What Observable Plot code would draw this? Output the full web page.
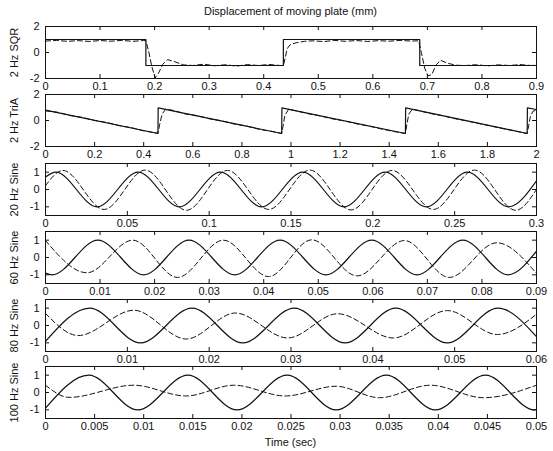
<!DOCTYPE html>
<html>
<head>
<meta charset="utf-8">
<script src="https://cdn.jsdelivr.net/npm/d3@7"></script>
<script src="https://cdn.jsdelivr.net/npm/@observablehq/plot@0.6"></script>
<style>
  body { margin: 0; background: #fff; font-family: "Liberation Sans", Arial, Helvetica, sans-serif; color: #111; }
  #chart { position: relative; width: 553px; height: 451px; overflow: hidden; }
  .caption { position: absolute; left: 45px; width: 491px; text-align: center; font-size: 11px; line-height: 13px; }
  .panel { position: absolute; left: 0; }
  .panel svg { overflow: visible; }
</style>
</head>
<body>
<div id="chart"></div>
<script>
// ---- Tick values for each panel ----
const sqrTicks = [0, 0.1, 0.2, 0.3, 0.4, 0.5, 0.6, 0.7, 0.8, 0.9];
const triTicks = [0, 0.2, 0.4, 0.6, 0.8, 1, 1.2, 1.4, 1.6, 1.8, 2];
const sine20Ticks = [0, 0.05, 0.1, 0.15, 0.2, 0.25, 0.3];
const sine60Ticks = [0, 0.01, 0.02, 0.03, 0.04, 0.05, 0.06, 0.07, 0.08, 0.09];
const sine80Ticks = [0, 0.01, 0.02, 0.03, 0.04, 0.05, 0.06];
const sine100Ticks = [0, 0.005, 0.01, 0.015, 0.02, 0.025, 0.03, 0.035, 0.04, 0.045, 0.05];
const wideYTicks = [-2, 0, 2];
const unitYTicks = [-1, 0, 1];

// ---- Panel labels ----
const panelLabels = ["2 Hz SQR", "2 Hz TriA", "20 Hz Sine", "60 Hz Sine", "80 Hz Sine", "100 Hz Sine"];

// ---- 2 Hz square wave: command (solid, held between steps) and measured (dashed) [time s, mm] ----
const sqrCommand = [[0, 1], [0.184, -1], [0.436, 1], [0.686, -1], [0.9, -1]];
const sqrMeasured = [
  [0, 0.88], [0.02, 0.93], [0.04, 0.86], [0.06, 0.91], [0.08, 0.85], [0.10, 0.92], [0.12, 0.87],
  [0.14, 0.93], [0.16, 0.86], [0.18, 0.92], [0.184, 0.9], [0.189, 0.1], [0.195, -1.1], [0.201, -1.95],
  [0.207, -1.6], [0.215, -0.9], [0.224, -0.55], [0.238, -0.72], [0.252, -0.95], [0.27, -1.0],
  [0.29, -0.9], [0.31, -1.02], [0.33, -0.94], [0.35, -1.05], [0.37, -0.93], [0.39, -1.0],
  [0.41, -0.92], [0.43, -1.0], [0.436, -1.0], [0.439, -0.5], [0.443, 0.3], [0.449, 0.62],
  [0.46, 0.75], [0.475, 0.86], [0.49, 0.9], [0.51, 0.84], [0.53, 0.93], [0.55, 0.86], [0.57, 0.92],
  [0.59, 0.85], [0.61, 0.91], [0.63, 0.87], [0.65, 0.93], [0.67, 0.88], [0.684, 0.9], [0.689, 0.0],
  [0.695, -1.2], [0.701, -1.8], [0.708, -1.7], [0.716, -0.95], [0.724, -0.6], [0.737, -0.82],
  [0.752, -0.98], [0.77, -1.0], [0.79, -0.94], [0.81, -1.03], [0.83, -0.95], [0.85, -1.0],
  [0.87, -0.93], [0.89, -1.0], [0.9, -0.97]
];

// ---- 2 Hz sawtooth ----
const triCommand = [
  [0, 0.8], [0.458, -1.0], [0.459, 0.97], [0.962, -1.0], [0.963, 0.97],
  [1.466, -1.0], [1.467, 0.97], [1.962, -1.0], [1.963, 0.97], [2, 0.84]
];
const triMeasured = [
  [0, 0.74], [0.05, 0.63], [0.1, 0.38], [0.15, 0.24], [0.2, 0.0], [0.25, -0.15], [0.3, -0.4],
  [0.35, -0.55], [0.4, -0.8], [0.45, -0.95], [0.458, -1.0], [0.465, -0.3], [0.475, 0.5], [0.49, 0.88],
  [0.52, 0.78], [0.57, 0.5], [0.62, 0.37], [0.67, 0.12], [0.72, -0.03], [0.77, -0.28], [0.82, -0.43],
  [0.87, -0.68], [0.92, -0.83], [0.962, -1.0], [0.968, -0.4], [0.975, 0.4], [0.99, 0.85],
  [1.02, 0.75], [1.07, 0.52], [1.12, 0.35], [1.17, 0.12], [1.22, -0.04], [1.27, -0.27], [1.32, -0.44],
  [1.37, -0.66], [1.42, -0.85], [1.466, -1.0], [1.472, -0.3], [1.48, 0.5], [1.495, 0.88],
  [1.52, 0.76], [1.57, 0.53], [1.62, 0.36], [1.67, 0.13], [1.72, -0.05], [1.77, -0.25], [1.82, -0.45],
  [1.87, -0.65], [1.92, -0.84], [1.962, -1.0], [1.968, -0.4], [1.975, 0.3], [1.985, 0.7], [2, 0.82]
];

// ---- Sine runs: start, peaks/troughs, end ----
const sine20Command = [
  [0, 0.72], [0.0063, 1], [0.0315, -1], [0.0566, 1], [0.0818, -1], [0.1069, 1], [0.1321, -1],
  [0.1572, 1], [0.1824, -1], [0.2075, 1], [0.2327, -1], [0.2578, 1], [0.2830, -1], [0.3, 0.5]
];
const sine20Measured = [
  [0, 0.22], [0.0106, 1.1], [0.0358, -1.15], [0.0609, 1.12], [0.0861, -1.2], [0.1112, 1.1],
  [0.1364, -1.15], [0.1615, 1.12], [0.1867, -1.18], [0.2118, 1.1], [0.2370, -1.15], [0.2621, 1.12],
  [0.2873, -1.2], [0.3, 0.0]
];
const sine60Command = [
  [0, -0.9], [0.0012, -1], [0.0096, 1], [0.0180, -1], [0.0263, 1], [0.0347, -1], [0.0430, 1],
  [0.0514, -1], [0.0598, 1], [0.0681, -1], [0.0765, 1], [0.0848, -1], [0.09, 0.37]
];
const sine60Measured = [
  [0, 0.98], [0.0076, -0.88], [0.0160, 1.0], [0.0242, -1.15], [0.0326, 1.0], [0.0409, -1.1],
  [0.0488, 1.02], [0.0571, -1.06], [0.0658, 0.98], [0.0740, -1.15], [0.0827, 0.85], [0.09, -0.92]
];
const sine80Command = [
  [0, -0.92], [0.0054, 1], [0.0116, -1], [0.0179, 1], [0.0241, -1], [0.0304, 1], [0.0366, -1],
  [0.0428, 1], [0.0491, -1], [0.0553, 1], [0.06, -0.65]
];
const sine80Measured = [
  [0, 0.7], [0.0040, -0.58], [0.0108, 0.88], [0.0172, -0.78], [0.0232, 0.72], [0.0296, -0.72],
  [0.0357, 0.68], [0.0425, -0.72], [0.0491, 0.86], [0.0552, -0.52], [0.06, 0.65]
];
const sine100Command = [
  [0, -0.9], [0.0044, 1], [0.0094, -1], [0.0145, 1], [0.0195, -1], [0.0246, 1], [0.0296, -1],
  [0.0347, 1], [0.0397, -1], [0.0448, 1], [0.0498, -1], [0.05, -0.99]
];
const sine100Measured = [
  [0, 0.42], [0.0024, -0.28], [0.0090, 0.42], [0.0143, -0.2], [0.0192, 0.42], [0.0244, -0.2],
  [0.0296, 0.36], [0.0340, -0.3], [0.0392, 0.42], [0.0446, -0.3], [0.05, 0.42]
];

// ---- Layout ----
const W = 553, ML = 45, MR = 17, FRAME_H = 52, MT = 1, MB = 19, TICK = 4;
const panelTops = [26, 94, 163, 231, 299, 366];
const INK = "#111";
const fmt = d => String(+d.toFixed(4));

const panels = [
  { label: panelLabels[0], xTicks: sqrTicks, yTicks: wideYTicks, yDomain: [-2, 2], cmd: sqrCommand, meas: sqrMeasured, cmdCurve: "step-after", measCurve: "linear" },
  { label: panelLabels[1], xTicks: triTicks, yTicks: wideYTicks, yDomain: [-2, 2], cmd: triCommand, meas: triMeasured, cmdCurve: "linear", measCurve: "linear" },
  { label: panelLabels[2], xTicks: sine20Ticks, yTicks: unitYTicks, yDomain: [-1.5, 1.5], cmd: sine20Command, meas: sine20Measured, cmdCurve: "monotone-x", measCurve: "monotone-x" },
  { label: panelLabels[3], xTicks: sine60Ticks, yTicks: unitYTicks, yDomain: [-1.5, 1.5], cmd: sine60Command, meas: sine60Measured, cmdCurve: "monotone-x", measCurve: "monotone-x" },
  { label: panelLabels[4], xTicks: sine80Ticks, yTicks: unitYTicks, yDomain: [-1.5, 1.5], cmd: sine80Command, meas: sine80Measured, cmdCurve: "monotone-x", measCurve: "monotone-x" },
  { label: panelLabels[5], xTicks: sine100Ticks, yTicks: unitYTicks, yDomain: [-1.5, 1.5], cmd: sine100Command, meas: sine100Measured, cmdCurve: "monotone-x", measCurve: "monotone-x" }
];

const chart = document.getElementById("chart");

const title = document.createElement("div");
title.className = "caption";
title.style.top = "5px";
title.textContent = "Displacement of moving plate (mm)";
chart.appendChild(title);

const frameW = W - ML - MR;

panels.forEach((p, i) => {
  const xDomain = [p.xTicks[0], p.xTicks[p.xTicks.length - 1]];
  const svg = Plot.plot({
    width: W,
    height: MT + FRAME_H + MB,
    marginLeft: ML,
    marginRight: MR,
    marginTop: MT,
    marginBottom: MB,
    style: { fontFamily: '"Liberation Sans", Arial, Helvetica, sans-serif', fontSize: "11px", color: INK, background: "transparent" },
    x: { domain: xDomain, axis: null },
    y: { domain: p.yDomain, axis: null },
    marks: [
      Plot.line(p.meas, { x: d => d[0], y: d => d[1], curve: p.measCurve, stroke: INK, strokeWidth: 1, strokeDasharray: "5,3", clip: true }),
      Plot.line(p.cmd, { x: d => d[0], y: d => d[1], curve: p.cmdCurve, stroke: INK, strokeWidth: 1.2, clip: true }),
      // inward tick marks on all four sides
      Plot.tickX(p.xTicks, { x: d => d, insetTop: FRAME_H - TICK, stroke: INK }),
      Plot.tickX(p.xTicks, { x: d => d, insetBottom: FRAME_H - TICK, stroke: INK }),
      Plot.tickY(p.yTicks, { y: d => d, insetRight: frameW - TICK, stroke: INK }),
      Plot.tickY(p.yTicks, { y: d => d, insetLeft: frameW - TICK, stroke: INK }),
      Plot.frame({ stroke: INK, strokeWidth: 1 }),
      Plot.axisX({ ticks: p.xTicks, tickSize: 0, tickPadding: 4, tickFormat: fmt, label: null, fill: INK }),
      Plot.axisY({ ticks: p.yTicks, tickSize: 0, tickPadding: 6, tickFormat: fmt, label: null, fill: INK }),
      Plot.text([p.label], { text: d => d, frameAnchor: "left", textAnchor: "middle", lineAnchor: "middle", dx: -31, rotate: -90, fill: INK, fontSize: 11 })
    ]
  });
  const wrap = document.createElement("div");
  wrap.className = "panel";
  wrap.style.top = (panelTops[i] - MT) + "px";
  wrap.appendChild(svg);
  chart.appendChild(wrap);
});

const xTitle = document.createElement("div");
xTitle.className = "caption";
xTitle.style.top = "436px";
xTitle.textContent = "Time (sec)";
chart.appendChild(xTitle);
</script>
</body>
</html>
